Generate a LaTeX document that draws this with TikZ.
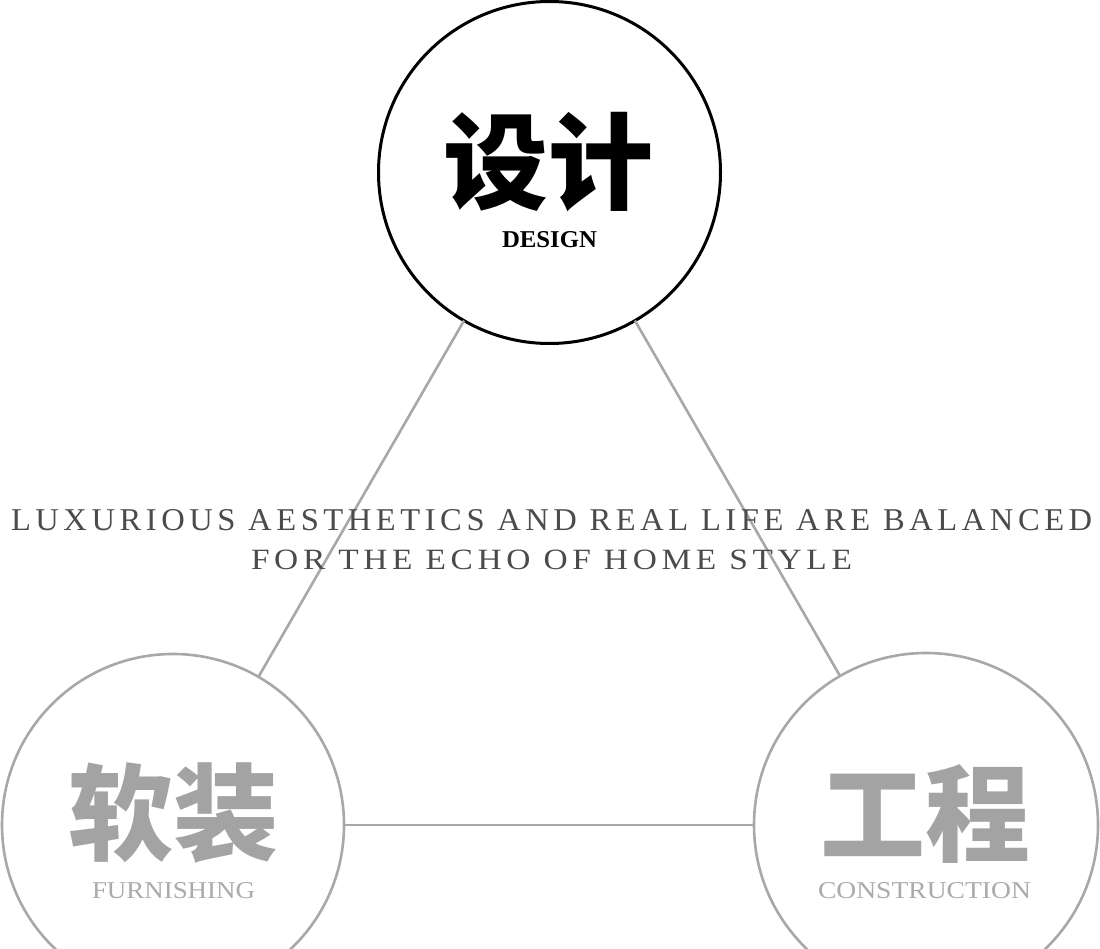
\documentclass[tikz,border=0pt]{standalone}
\usepackage{fontspec}
\setmainfont{Liberation Serif}
\newfontfamily\cjk{Noto Sans CJK SC}
\newfontfamily\spaced{Liberation Serif}[LetterSpace=14]
\definecolor{linegray}{HTML}{A8A8A8}
\definecolor{cjkgray}{HTML}{A3A3A3}
\definecolor{labelgray}{HTML}{ABABAB}
\definecolor{textdark}{HTML}{4B4B4B}
\begin{document}
\begin{tikzpicture}[x=1pt,y=-1pt,
  ring/.style={circle,inner sep=0pt,outer sep=0pt},
  txt/.style={inner sep=0pt,outer sep=0pt},
  link/.style={draw=linegray,line width=2.6pt}]
\useasboundingbox (0,0) rectangle (1100,949);
\clip (0,0) rectangle (1100,949);
\fill[white] (0,0) rectangle (1100,949);
% circles
\node[ring,draw=black,line width=3pt,minimum size=342pt] (design) at (549.5,172.5) {};
\node[ring,draw=linegray,line width=2.6pt,minimum size=342pt] (furn) at (173,825) {};
\node[ring,draw=linegray,line width=2.6pt,minimum size=344pt] (cons) at (926,825) {};
% connectors
\draw[link] (design) -- (furn);
\draw[link] (design) -- (cons);
\draw[link] (furn) -- (cons);
% chinese titles
\node[txt,text=black] (t1) at (548,162) {\resizebox{210pt}{!}{\cjk\bfseries 设计}};
\node[txt,text=cjkgray] (t2) at (173,813.5) {\resizebox{210pt}{!}{\cjk\bfseries 软装}};
\node[txt,text=cjkgray] (t3) at (925,814.5) {\resizebox{210pt}{!}{\cjk\bfseries 工程}};
% latin labels
\node[txt,anchor=base west,text=black] (l1) at (502,248) {\resizebox{95pt}{16pt}{\bfseries DESIGN}};
\node[txt,anchor=base west,text=labelgray] (l2) at (92,898) {\resizebox{163pt}{16pt}{FURNISHING}};
\node[txt,anchor=base west,text=labelgray] (l3) at (818,898) {\resizebox{213pt}{16pt}{CONSTRUCTION}};
% slogan
\node[txt,anchor=base west,text=textdark] (s1) at (11,530) {\resizebox{1081pt}{21pt}{\spaced LUXURIOUS AESTHETICS AND REAL LIFE ARE BALANCED}};
\node[txt,anchor=base west,text=textdark] (s2) at (251,569.5) {\resizebox{601pt}{19.5pt}{\spaced FOR THE ECHO OF HOME STYLE}};
\end{tikzpicture}
\end{document}
